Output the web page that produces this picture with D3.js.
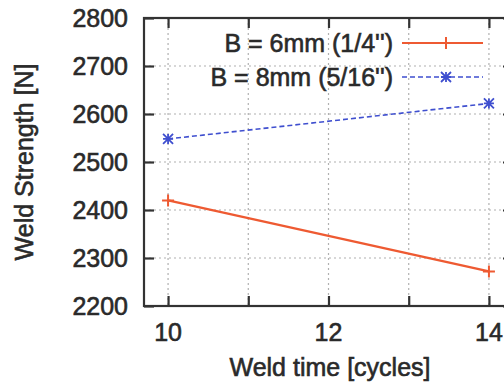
<!DOCTYPE html>
<html>
<head>
<meta charset="utf-8">
<script src="https://cdn.jsdelivr.net/npm/d3@7"></script>
<style>
  html, body { margin: 0; padding: 0; background: #fff; }
  svg { display: block; }
  text { font-family: "Liberation Sans", Arial, Helvetica, sans-serif; fill: #2a2a2a; stroke: #2a2a2a; stroke-width: 0.6px; }
</style>
</head>
<body>
<svg id="chart" width="504" height="387"></svg>
<script>
// Weld strength vs. weld time for two electrode widths
const weldTime = [10, 14];
const seriesNames = ["B = 6mm (1/4'')", "B = 8mm (5/16'')"];
const strength6mm = [2420, 2272];
const strength8mm = [2548, 2622];
const yTicks = [2200, 2300, 2400, 2500, 2600, 2700, 2800];
const xTicks = [10, 11, 12, 13, 14];
const xTickLabels = ["10", "", "12", "", "14"];
const xLabel = "Weld time [cycles]";
const yLabel = "Weld Strength [N]";

(function () {
  const svg = d3.select("#chart");
  const plot = { left: 144, top: 18, right: 513, bottom: 306 };

  const x = d3.scaleLinear().domain([9.7, 14.3]).range([plot.left, plot.right]);
  const y = d3.scaleLinear().domain([2200, 2800]).range([plot.bottom, plot.top]);

  const fontSize = 25;
  const axisColor = "#333";

  // grid
  const grid = svg.append("g");
  grid.selectAll("line.gy").data(yTicks.slice(1, -1)).join("line")
    .attr("x1", plot.left).attr("x2", plot.right)
    .attr("y1", d => y(d)).attr("y2", d => y(d))
    .attr("stroke", "#b0b0b0").attr("stroke-width", 1.2).attr("stroke-dasharray", "2,3");
  grid.selectAll("line.gx").data(xTicks).join("line")
    .attr("y1", plot.top).attr("y2", plot.bottom)
    .attr("x1", d => x(d)).attr("x2", d => x(d))
    .attr("stroke", "#b0b0b0").attr("stroke-width", 1.2).attr("stroke-dasharray", "2,3");

  // axes with inward ticks, mirrored on the opposite sides
  const tickLen = 10;
  const axLeft = svg.append("g").attr("transform", `translate(${plot.left},0)`)
    .call(d3.axisRight(y).tickValues(yTicks).tickSize(tickLen).tickFormat(""));
  const axRight = svg.append("g").attr("transform", `translate(${plot.right},0)`)
    .call(d3.axisLeft(y).tickValues(yTicks).tickSize(tickLen).tickFormat(""));
  const axBottom = svg.append("g").attr("transform", `translate(0,${plot.bottom})`)
    .call(d3.axisTop(x).tickValues(xTicks).tickSize(tickLen).tickFormat(""));
  const axTop = svg.append("g").attr("transform", `translate(0,${plot.top})`)
    .call(d3.axisBottom(x).tickValues(xTicks).tickSize(tickLen).tickFormat(""));
  [axLeft, axRight, axBottom, axTop].forEach(g => {
    g.select(".domain").remove();
    g.selectAll(".tick line").attr("stroke", axisColor).attr("stroke-width", 2.2);
  });

  // frame
  svg.append("rect")
    .attr("x", plot.left).attr("y", plot.top)
    .attr("width", plot.right - plot.left).attr("height", plot.bottom - plot.top)
    .attr("fill", "none").attr("stroke", axisColor).attr("stroke-width", 2.2);

  // tick labels
  svg.append("g").selectAll("text").data(yTicks).join("text")
    .attr("x", 128).attr("y", d => y(d)).attr("dy", "0.36em")
    .attr("text-anchor", "end").attr("font-size", fontSize)
    .text(d => d);
  svg.append("g").selectAll("text").data(xTicks).join("text")
    .attr("x", d => x(d)).attr("y", 341)
    .attr("text-anchor", "middle").attr("font-size", fontSize)
    .text((d, i) => xTickLabels[i]);

  // axis titles
  svg.append("text")
    .attr("x", 330).attr("y", 376)
    .attr("text-anchor", "middle").attr("font-size", fontSize)
    .text(xLabel);
  svg.append("text")
    .attr("transform", `translate(33,${(plot.top + plot.bottom) / 2}) rotate(-90)`)
    .attr("text-anchor", "middle").attr("font-size", fontSize)
    .text(yLabel);

  // series
  const red = "#ee5a32";
  const blue = "#3f4fcf";
  const line = d3.line().x(d => x(d[0])).y(d => y(d[1]));
  const data6 = weldTime.map((t, i) => [t, strength6mm[i]]);
  const data8 = weldTime.map((t, i) => [t, strength8mm[i]]);

  svg.append("path").datum(data6).attr("d", line)
    .attr("fill", "none").attr("stroke", red).attr("stroke-width", 2.2);
  svg.append("path").datum(data8).attr("d", line)
    .attr("fill", "none").attr("stroke", blue).attr("stroke-width", 1.6)
    .attr("stroke-dasharray", "5,3");

  function plus(g, cx, cy, color, s) {
    g.append("path").attr("d", `M${cx - s},${cy}H${cx + s}M${cx},${cy - s}V${cy + s}`)
      .attr("stroke", color).attr("stroke-width", 2).attr("fill", "none");
  }
  function star(g, cx, cy, color, s) {
    g.append("path").attr("d",
      `M${cx - s},${cy}H${cx + s}M${cx},${cy - s}V${cy + s}` +
      `M${cx - s},${cy - s}L${cx + s},${cy + s}M${cx - s},${cy + s}L${cx + s},${cy - s}`)
      .attr("stroke", color).attr("stroke-width", 1.8).attr("fill", "none");
  }
  const marks = svg.append("g");
  data6.forEach(d => plus(marks, x(d[0]), y(d[1]), red, 6));
  data8.forEach(d => star(marks, x(d[0]), y(d[1]), blue, 5));

  // legend
  const legend = svg.append("g");
  const legendRows = [
    { name: seriesNames[0], color: red, dash: null, width: 2.2, mark: plus, size: 6, ly: 43 },
    { name: seriesNames[1], color: blue, dash: "5,3", width: 1.6, mark: star, size: 5, ly: 77 }
  ];
  legendRows.forEach(r => {
    legend.append("text").attr("x", 393).attr("y", r.ly).attr("dy", "0.36em")
      .attr("text-anchor", "end").attr("font-size", fontSize).text(r.name);
    legend.append("line").attr("x1", 402).attr("x2", 483).attr("y1", r.ly).attr("y2", r.ly)
      .attr("stroke", r.color).attr("stroke-width", r.width)
      .attr("stroke-dasharray", r.dash);
    r.mark(legend, 446, r.ly, r.color, r.size);
  });
})();
</script>
</body>
</html>
